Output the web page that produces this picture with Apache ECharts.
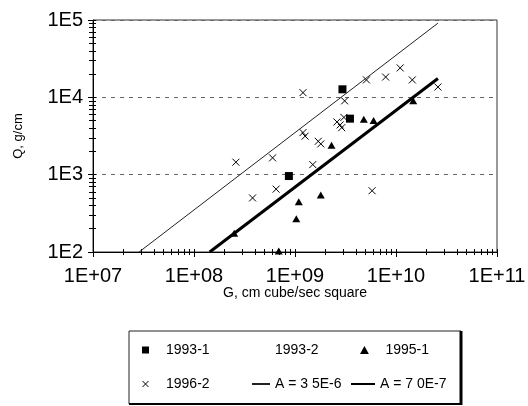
<!DOCTYPE html>
<html>
<head>
<meta charset="utf-8">
<script src="https://cdn.jsdelivr.net/npm/echarts@6/dist/echarts.min.js"></script>
<style>
  html, body { margin: 0; padding: 0; background: #fff; }
  #chart { width: 528px; height: 406px; }
</style>
</head>
<body>
<div id="chart"></div>
<script>
// tick labels
const xTickValues = [1e7, 1e8, 1e9, 1e10, 1e11];
const xTickLabels = ['1E+07', '1E+08', '1E+09', '1E+10', '1E+11'];
const yTickValues = [1e2, 1e3, 1e4, 1e5];
const yTickLabels = ['1E2', '1E3', '1E4', '1E5'];
const minorSteps = [1, 2, 3, 4, 5, 6, 7, 8, 9];

// points, [G, Q]
const s1993_1 = [[2.95e9, 12700], [3.5e9, 5300], [8.7e8, 960]];
const s1993_2 = [];
const s1995_1 = [
  [2.5e8, 175], [6.9e8, 103], [1.03e9, 270], [1.09e9, 445], [1.8e9, 545],
  [2.3e9, 2400], [4.8e9, 5200], [6.0e9, 5000], [1.48e10, 9000]
];
const s1996_2 = [
  [2.6e8, 1450], [3.8e8, 500], [6.0e8, 1650], [6.5e8, 650], [1.2e9, 11500],
  [1.2e9, 3500], [1.26e9, 3150], [1.5e9, 1350], [1.7e9, 2700], [1.8e9, 2500],
  [2.6e9, 4800], [2.8e9, 4400], [2.9e9, 4050], [3.1e9, 9000], [3.05e9, 5500],
  [5.1e9, 16800], [7.9e9, 18300], [1.1e10, 24000], [1.45e10, 16800],
  [2.6e10, 13600], [5.8e9, 620]
];
// fitted lines Q = A * G
const lineA35 = [[2.86e7, 100], [2.6e10, 91000]];
const lineA07 = [[1.43e8, 100], [2.6e10, 17500]];

const FONT = '"Liberation Sans", Arial, sans-serif';
const SQUARE = 'path://M0,0L10,0L10,10L0,10Z';
const TRIANGLE = 'path://M5,0L10,9L0,9Z';
const CROSS = 'path://M0,0L10,10M10,0L0,10';

function logTicks(lo, hi) {
  const out = [];
  for (let e = lo; e < hi; e++) {
    minorSteps.forEach(s => out.push(s * Math.pow(10, e)));
  }
  out.push(Math.pow(10, hi));
  return out;
}

function pickLabel(values, labels) {
  return function (v) {
    let best = 0;
    values.forEach((t, i) => {
      if (Math.abs(Math.log10(t) - Math.log10(v)) < Math.abs(Math.log10(values[best]) - Math.log10(v))) best = i;
    });
    return labels[best];
  };
}

const chart = echarts.init(document.getElementById('chart'));

const baseX = { type: 'log', logBase: 10, min: 1e7, max: 1e11, position: 'bottom', splitLine: { show: false } };
const baseY = { type: 'log', logBase: 10, min: 100, max: 1e5, position: 'left' };

// extra axes only carry the minor ticks (outside and inside)
function tickAxis(base, ticks, inside, len) {
  return Object.assign({}, base, {
    axisLine: { show: false },
    axisTick: { show: true, inside: inside, length: len, customValues: ticks, lineStyle: { color: '#000' } },
    axisLabel: { show: false },
    splitLine: { show: false }
  });
}

function legendAt(name, left, top, w, h, itemStyle) {
  return {
    data: [name], left: left, top: top, itemWidth: w, itemHeight: h,
    padding: 0, selectedMode: false, symbolKeepAspect: true,
    itemStyle: itemStyle || {},
    textStyle: { fontSize: 14, color: '#000', fontFamily: FONT }
  };
}
const noIcon = { color: 'transparent', borderColor: 'transparent', borderWidth: 0 };

const option = {
  backgroundColor: '#fff',
  animation: false,
  textStyle: { fontFamily: FONT },
  grid: {
    left: 93, right: 31, top: 20, bottom: 154,
    show: true, borderColor: '#333', borderWidth: 1,
    outerBoundsMode: 'none'
  },
  xAxis: [
    Object.assign({}, baseX, {
      name: 'G, cm cube/sec square',
      nameLocation: 'middle', nameGap: 34, nameMoveOverlap: false,
      nameTextStyle: { fontSize: 14, color: '#000', fontFamily: FONT },
      axisLine: { lineStyle: { color: '#000', width: 1 } },
      axisTick: { show: true, inside: false, length: 5, customValues: xTickValues, lineStyle: { color: '#000' } },
      axisLabel: {
        customValues: xTickValues, margin: 14, fontSize: 20, color: '#000', fontFamily: FONT,
        formatter: pickLabel(xTickValues, xTickLabels)
      }
    }),
    tickAxis(baseX, logTicks(7, 11), false, 3),
    tickAxis(baseX, logTicks(7, 11), true, 3)
  ],
  yAxis: [
    Object.assign({}, baseY, {
      name: 'Q, g/cm',
      nameLocation: 'middle', nameGap: 68, nameRotate: 90, nameMoveOverlap: false,
      nameTextStyle: { fontSize: 13, color: '#000', fontFamily: FONT },
      axisLine: { show: true, lineStyle: { color: '#000', width: 1 } },
      axisTick: { show: true, inside: false, length: 5, customValues: yTickValues, lineStyle: { color: '#000' } },
      axisLabel: {
        customValues: yTickValues, margin: 10, fontSize: 20, color: '#000', fontFamily: FONT,
        formatter: pickLabel(yTickValues, yTickLabels)
      },
      splitLine: { show: true, lineStyle: { color: '#666', type: [4, 5], width: 1 } }
    }),
    tickAxis(baseY, logTicks(2, 5), false, 4),
    tickAxis(baseY, logTicks(2, 5), true, 3)
  ],
  legend: [
    legendAt('1993-1', 142, 343, 31, 7, { borderWidth: 0 }),
    legendAt('1993-2', 270, 343, 0, 7, { borderWidth: 0 }),
    legendAt('1995-1', 360, 343, 32, 8, { borderWidth: 0 }),
    legendAt('1996-2', 142, 377, 31, 6, { borderWidth: 1, borderColor: '#000' }),
    legendAt('A = 3 5E-6', 251, 377, 18, 14, noIcon),
    legendAt('A = 7 0E-7', 350, 377, 24, 14, noIcon)
  ],
  graphic: [
    {
      type: 'rect', z: 1, silent: true,
      shape: { x: 129, y: 331, width: 332, height: 73 },
      style: { fill: '#fff', stroke: '#222', lineWidth: 1 }
    },
    {
      type: 'line', z: 1, silent: true,
      shape: { x1: 461, y1: 331, x2: 461, y2: 405 },
      style: { stroke: '#000', lineWidth: 3 }
    },
    {
      type: 'line', z: 1, silent: true,
      shape: { x1: 129, y1: 404, x2: 462, y2: 404 },
      style: { stroke: '#000', lineWidth: 2 }
    }
  ],
  series: [
    {
      name: 'A = 3 5E-6', type: 'line', data: lineA35, symbol: 'none',
      lineStyle: { color: '#222', width: 1 }, itemStyle: { color: '#222' }
    },
    {
      name: 'A = 7 0E-7', type: 'line', data: lineA07, symbol: 'none',
      lineStyle: { color: '#000', width: 3 }, itemStyle: { color: '#000' }
    },
    {
      name: '1993-1', type: 'scatter', data: s1993_1, symbol: SQUARE, symbolSize: 8,
      itemStyle: { color: '#000', opacity: 1 }
    },
    {
      name: '1993-2', type: 'scatter', data: s1993_2, symbol: 'none',
      itemStyle: { color: 'transparent' }
    },
    {
      name: '1995-1', type: 'scatter', data: s1995_1, symbol: TRIANGLE, symbolSize: [8, 7],
      itemStyle: { color: '#000', opacity: 1 }
    },
    {
      name: '1996-2', type: 'scatter', data: s1996_2, symbol: CROSS, symbolSize: 7,
      itemStyle: { color: 'transparent', borderColor: '#000', borderWidth: 1, opacity: 1 }
    }
  ]
};

chart.setOption(option);
</script>
</body>
</html>
